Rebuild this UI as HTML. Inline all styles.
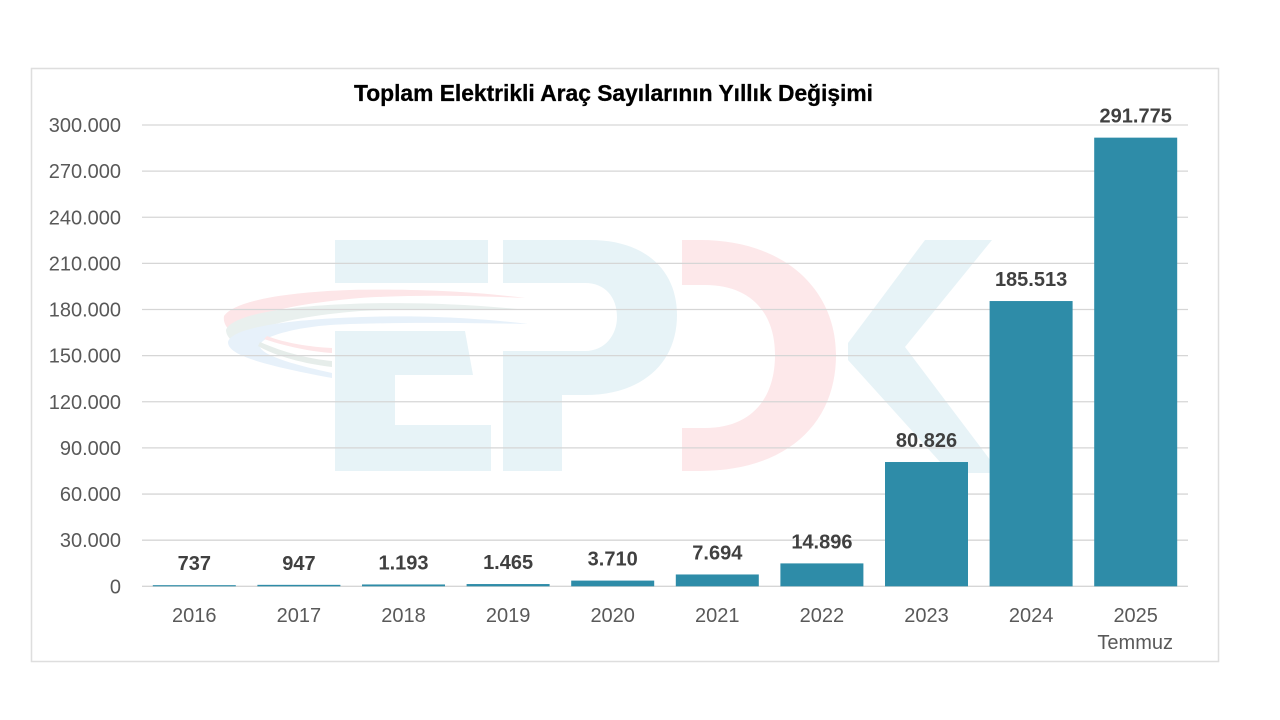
<!DOCTYPE html>
<html lang="tr">
<head>
<meta charset="utf-8">
<title>Toplam Elektrikli Araç Sayılarının Yıllık Değişimi</title>
<style>
  html, body { margin: 0; padding: 0; background: #fff; width: 1280px; height: 720px; overflow: hidden; }
  svg { display: block; font-family: "Liberation Sans", sans-serif; }
</style>
</head>
<body>
<svg id="chart" width="1280" height="720" viewBox="0 0 1280 720" xmlns="http://www.w3.org/2000/svg">
  <rect x="31.5" y="68.5" width="1187" height="593" fill="#fff" stroke="#dedede" stroke-width="1.5"/>
  <g>
    <g>
      <path d="M525 298 C460 290 400 289 350 290 C290 292 235 300 224 316 C223 322 226 328 232 332 C240 316 290 304 360 298 C420 294 480 296 525 298 Z" fill="#fde6e8"/>
      <path d="M527 310 C460 303 400 302 350 304 C290 306 232 314 226 330 C226 335 230 340 236 344 C250 326 300 316 360 311 C420 308 480 309 527 310 Z" fill="#e9f0ee"/>
      <path d="M528 324 C470 317 420 316 383 316.5 C300 318 232 326 228 342 C228 352 245 362 332 378 L332 373 C290 364 258 354 260 345 C262 336 300 326 340 324.5 C400 322 470 323 528 324 Z" fill="#e7f1fa"/>
      <path d="M267 336 C285 343 310 347 332 348 L332 353 C305 351 282 345 264 339 Z" fill="#fde6e8"/>
      <path d="M260 342 C285 353 310 359 332 361 L332 367 C305 364 275 356 258 346 Z" fill="#e6edea"/>
    </g>
    <g fill="#e7f3f7">
      <rect x="335" y="240" width="153" height="43"/>
      <polygon points="335,331 465,331 473,375 395,375 395,425 491,425 491,471 335,471"/>
    </g>
    <path fill="#e7f3f7" fill-rule="evenodd" d="M503 240 L590 240 C645 240 677 270 677 315 C677 365 640 395 585 395 L562 395 L562 471 L503 471 Z M503 283 L503 351 L585 351 C605 351 617 335 617 317 C617 297 605 283 585 283 Z"/>
    <path fill="#fde8ea" d="M682 240 L700 240 C785 240 836 290 836 355 C836 425 785 471 700 471 L682 471 L682 428 L705 428 C750 428 775 400 775 355 C775 312 750 285 705 285 L682 285 Z"/>
    <polygon fill="#e7f3f7" points="925,240 992,240 905,347 1000,473 950,473 848,360 848,343"/>
  </g>
  <g id="grid"></g>
  <g id="y-axis"></g>
  <g id="bars"></g>
  <g id="value-labels"></g>
  <g id="x-axis"></g>
  <text x="613.5" y="101" text-anchor="middle" font-size="23" font-weight="700" fill="#000" stroke="#000" stroke-width="0.3" textLength="519" lengthAdjust="spacingAndGlyphs">Toplam Elektrikli Araç Sayılarının Yıllık Değişimi</text>
</svg>
<script>
const categories = ['2016', '2017', '2018', '2019', '2020', '2021', '2022', '2023', '2024', '2025'];
const categorySubLabels = ['', '', '', '', '', '', '', '', '', 'Temmuz'];
const vehicleCounts = [737, 947, 1193, 1465, 3710, 7694, 14896, 80826, 185513, 291775];
const yTicks = [0, 30000, 60000, 90000, 120000, 150000, 180000, 210000, 240000, 270000, 300000];

const NS = 'http://www.w3.org/2000/svg';
const plot = { left: 142, right: 1188, y0: 586.3, y300: 125, yMax: 300000, barWidth: 83 };
const bandWidth = (plot.right - plot.left) / categories.length;

function yScale(v) { return plot.y0 - (v / plot.yMax) * (plot.y0 - plot.y300); }
function xCenter(i) { return plot.left + bandWidth * (i + 0.5); }
function formatTr(v) { return String(v).replace(/\B(?=(\d{3})+(?!\d))/g, '.'); }

function make(tag, attrs, text) {
  const el = document.createElementNS(NS, tag);
  for (const k in attrs) el.setAttribute(k, attrs[k]);
  if (text !== undefined) el.textContent = text;
  return el;
}

const gridG = document.getElementById('grid');
const yAxisG = document.getElementById('y-axis');
const barsG = document.getElementById('bars');
const labelsG = document.getElementById('value-labels');
const xAxisG = document.getElementById('x-axis');

yTicks.forEach(function (t) {
  const y = yScale(t);
  const line = make('line', { x1: plot.left, x2: plot.right, y1: y, y2: y, stroke: '#d6d6d6', 'stroke-width': 1.3 });
  
  
  gridG.appendChild(line);

  const label = make('text', { x: 121, y: y + 7, 'text-anchor': 'end', 'font-size': 20, fill: '#595959' }, formatTr(t));
  
  
  yAxisG.appendChild(label);
});

categories.forEach(function (c, i) {
  const v = vehicleCounts[i];
  const top = yScale(v);
  const bar = make('rect', { x: xCenter(i) - plot.barWidth / 2, y: top, width: plot.barWidth, height: plot.y0 - top, fill: '#2e8ca8' });
  
  
  barsG.appendChild(bar);

  const value = make('text', { x: xCenter(i), y: top - 15, 'text-anchor': 'middle', 'font-size': 20, 'font-weight': 700, fill: '#404040' }, formatTr(v));
  
  
  labelsG.appendChild(value);

  const tick = make('text', { x: xCenter(i), y: 622, 'text-anchor': 'middle', 'font-size': 20, fill: '#595959' }, c);
  
  
  xAxisG.appendChild(tick);

  if (categorySubLabels[i]) {
    const sub = make('text', { x: xCenter(i) - 0.5, y: 649, 'text-anchor': 'middle', 'font-size': 20, fill: '#595959' }, categorySubLabels[i]);
    
    
    xAxisG.appendChild(sub);
  }
});
</script>
</body>
</html>
